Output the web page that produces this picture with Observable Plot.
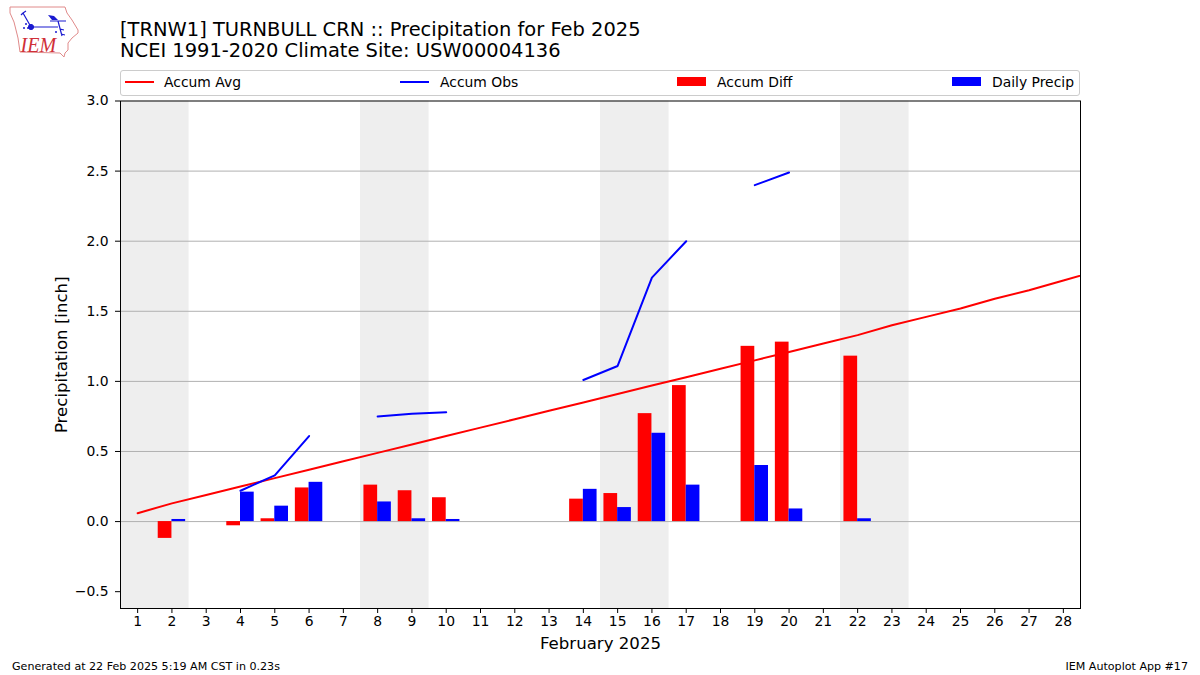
<!DOCTYPE html>
<html>
<head>
<meta charset="utf-8">
<script src="https://cdn.jsdelivr.net/npm/d3@7"></script>
<script src="https://cdn.jsdelivr.net/npm/@observablehq/plot@0.6"></script>
<style>
html,body{margin:0;padding:0;background:#fff;font-family:"DejaVu Sans",sans-serif;color:#000;}
#page{position:relative;width:1200px;height:675px;overflow:hidden;}
#header{position:relative;height:92px;}
#logo{position:absolute;left:0;top:0;}
#title{position:absolute;left:120px;top:18.5px;font-size:19.47px;line-height:21.5px;white-space:nowrap;}
#legend{position:absolute;left:120px;top:70px;width:958px;height:24px;border:1px solid #ccc;border-radius:3px;box-sizing:content-box;}
.item{position:absolute;top:0;height:24px;line-height:22px;font-size:13.9px;white-space:nowrap;}
.sw{position:absolute;}
#chart svg{display:block;}
#foot{position:absolute;left:0;right:0;top:660px;font-size:11.1px;line-height:13px;}
#foot .l{position:absolute;left:12px;}
#foot .r{position:absolute;right:12px;}
</style>
</head>
<body>
<div id="page">
  <div id="header">
    <svg id="logo" width="90" height="62" viewBox="0 0 90 62">
      <path d="M10 7 L65 7 L67 13 L72 20 L78 30 L78 33 L72 38 L68 43 L68 50 L65 53 L64 57 L60 53 L20 52 L18 38 L14 22 L10 13 Z" fill="none" stroke="#e08a8a" stroke-width="1"/>
      <g stroke="#1a1ad0" fill="#1a1ad0">
        <path d="M31 27 L58 27 M31 27 L23 13 M23 13 L21 15 M23 13 L26 11 M50 21 L66 21 M58 21 L62 36 M60 29 L64 30 M61 34 L65 35" stroke-width="1.2" fill="none"/>
        <circle cx="31" cy="27" r="2.6"/>
        <path d="M48 15 L54 16 L58 20 L52 20 Z" stroke="none"/>
        <circle cx="24" cy="28" r="1" stroke="none"/><circle cx="26" cy="24" r="1" stroke="none"/><circle cx="28" cy="28" r="1" stroke="none"/>
        <circle cx="56" cy="32" r="1" stroke="none"/>
      </g>
      <text x="20.5" y="52" font-family="Liberation Serif" font-style="italic" font-size="20" fill="#d03038">IEM</text>
    </svg>
    <div id="title">[TRNW1] TURNBULL CRN :: Precipitation for Feb 2025<br>NCEI 1991-2020 Climate Site: USW00004136</div>
    <div id="legend"></div>
  </div>
  <div id="chart"></div>
  <div id="foot"><span class="l">Generated at 22 Feb 2025 5:19 AM CST in 0.23s</span><span class="r">IEM Autoplot App #17</span></div>
</div>
<script>
const days = [1,2,3,4,5,6,7,8,9,10,11,12,13,14,15,16,17,18,19,20,21,22,23,24,25,26,27,28,29];
const accumAvg = [0.06,0.13,0.19,0.25,0.31,0.37,0.43,0.49,0.55,0.61,0.67,0.73,0.79,0.85,0.91,0.97,1.03,1.09,1.15,1.21,1.27,1.33,1.40,1.46,1.52,1.59,1.65,1.72,1.79];
const accumObs = [null,null,null,0.22,0.33,0.61,null,0.75,0.77,0.78,null,null,null,1.01,1.11,1.74,2.00,null,2.40,2.49,null,null,null,null,null,null,null,null,null];
const barDays = [2,4,5,6,8,9,10,14,15,16,17,19,20,22];
const accumDiff = [-0.12,-0.03,0.02,0.24,0.26,0.22,0.17,0.16,0.20,0.77,0.97,1.25,1.28,1.18];
const dailyPrecip = [0.015,0.21,0.11,0.28,0.14,0.02,0.015,0.23,0.10,0.63,0.26,0.40,0.09,0.02];
const weekendStart = [0.5,7.5,14.5,21.5];
const weekendEnd = [2.5,9.5,16.5,23.5];
const xTicks = days.slice(0,28);
const yTicks = [-0.5,0,0.5,1,1.5,2,2.5,3];
const barWidth = 0.4;

const legendItems = [
  {label:"Accum Avg", color:"red", kind:"line", sw:4, text:43},
  {label:"Accum Obs", color:"blue", kind:"line", sw:279, text:319},
  {label:"Accum Diff", color:"red", kind:"bar", sw:556, text:596},
  {label:"Daily Precip", color:"blue", kind:"bar", sw:831, text:871}
];
const legend = document.getElementById("legend");
for (const it of legendItems) {
  const s = document.createElement("div");
  s.className = "sw";
  s.style.left = it.sw + "px";
  s.style.width = "28.5px";
  s.style.background = it.color;
  if (it.kind === "line") { s.style.top = "9.5px"; s.style.height = "2px"; }
  else { s.style.top = "6px"; s.style.height = "9px"; }
  legend.appendChild(s);
  const t = document.createElement("div");
  t.className = "item";
  t.style.left = it.text + "px";
  t.textContent = it.label;
  legend.appendChild(t);
}

const chart = Plot.plot({
  width: 1200,
  height: 563,
  marginTop: 8.5,
  marginBottom: 47,
  marginLeft: 120,
  marginRight: 120,
  style: {fontFamily: '"DejaVu Sans", sans-serif', fontSize: "13.9px", color: "#000", background: "#fff"},
  x: {type: "linear", domain: [0.5, 28.5]},
  y: {type: "linear", domain: [-0.62, 3.0]},
  marks: [
    Plot.rect(weekendStart, {x1: d => d, x2: (d, i) => weekendEnd[i], y1: -0.62, y2: 3.0, fill: "#eeeeee", inset: 0}),
    Plot.ruleY(yTicks.slice(1, -1), {stroke: "#b0b0b0", strokeWidth: 1}),
    Plot.rectY(barDays, {x1: d => d - barWidth, x2: d => d, y: (d, i) => accumDiff[i], fill: "red", inset: 0}),
    Plot.rectY(barDays, {x1: d => d, x2: d => d + barWidth, y: (d, i) => dailyPrecip[i], fill: "blue", inset: 0}),
    Plot.line(days, {x: d => d, y: (d, i) => accumAvg[i], stroke: "red", strokeWidth: 2, clip: true, curve: "linear", strokeLinejoin: "round"}),
    Plot.line(days, {x: d => d, y: (d, i) => accumObs[i], stroke: "blue", strokeWidth: 2, clip: true, curve: "linear", strokeLinejoin: "round"}),
    Plot.frame({stroke: "#000", strokeWidth: 1}),
    Plot.axisX({ticks: xTicks, tickFormat: d => String(d), tickSize: 5, tickPadding: 3, label: "February 2025", labelAnchor: "center", labelArrow: "none", labelOffset: 40, fontSize: 13.9}),
    Plot.axisY({ticks: yTicks, tickFormat: d3.format(".1f"), tickSize: 5, tickPadding: 7, label: "Precipitation [inch]", labelAnchor: "center", labelArrow: "none", labelOffset: 65, fontSize: 13.9})
  ]
});
document.getElementById("chart").appendChild(chart);
chart.querySelectorAll('g[aria-label="x-axis label"] text, g[aria-label="y-axis label"] text').forEach(t => t.setAttribute("font-size", "16.6"));
</script>
</body>
</html>
